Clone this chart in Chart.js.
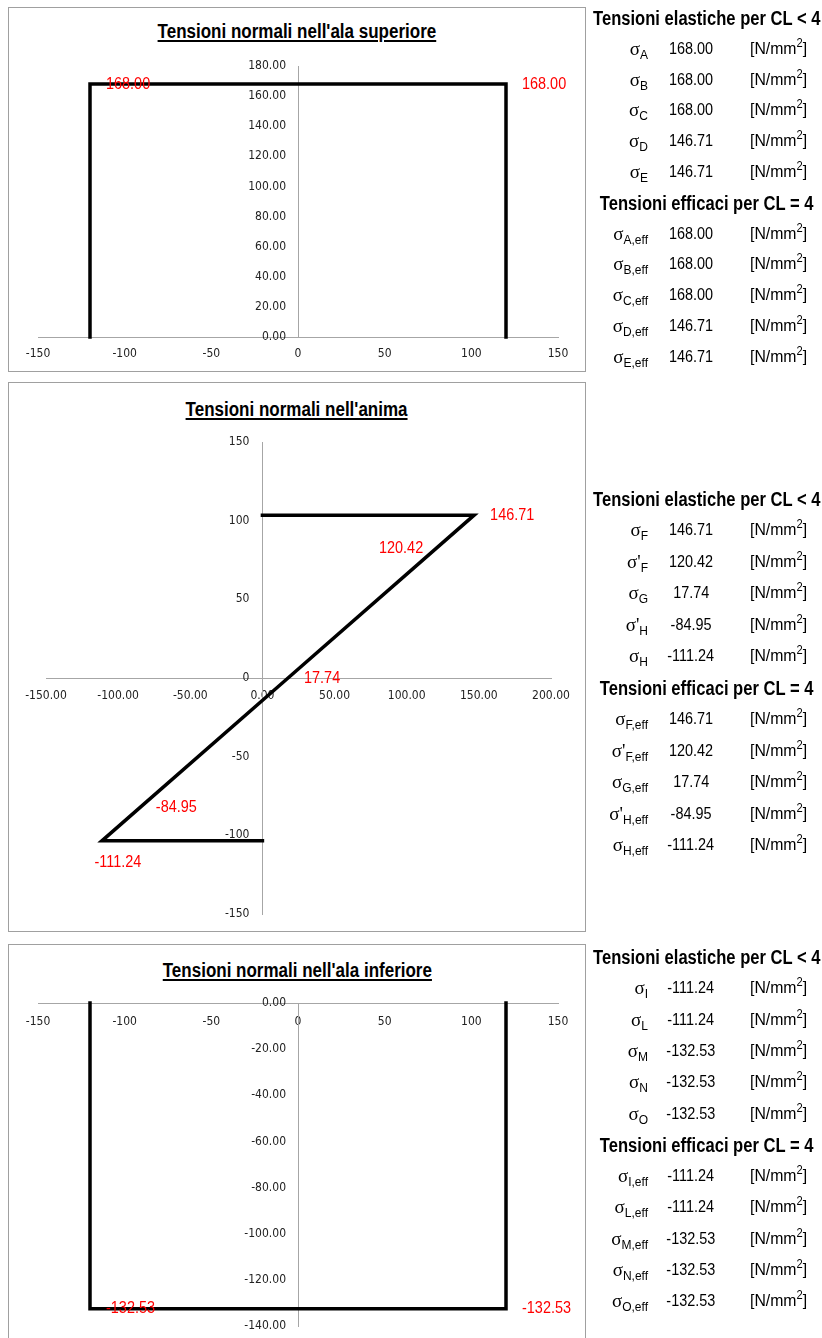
<!DOCTYPE html>
<html>
<head>
<meta charset="utf-8">
<script src="https://cdn.jsdelivr.net/npm/chart.js@4.4.1/dist/chart.umd.min.js"></script>
<style>
  body { margin: 0; width: 822px; height: 1338px; overflow: hidden; background: #fff;
         font-family: 'Liberation Sans', Arial, sans-serif; }
  .box { position: absolute; border: 1px solid #a0a0a0; background: #fff; }
  .box canvas { position: absolute; left: 0; top: 0; }
  .ctitle { position: absolute; left: 0; width: 100%; text-align: center; }
  .ctitle span { display: inline-block; font-weight: bold; font-size: 20px; text-decoration: underline;
                 text-underline-offset: 2px; transform: scaleX(0.85); color: #000; }
  .tbl { position: absolute; left: 590px; width: 232px; }
  .line { position: absolute; left: 0; width: 232px; height: 30px; line-height: 30px; white-space: nowrap; color: #000; }
  .line.head { left: -60px; width: 354px; text-align: center; }
  .head span { display: inline-block; font-weight: bold; font-size: 19.5px; transform: scaleX(0.85); }
  .sym { position: absolute; right: 174px; font-size: 19px; font-family: 'Liberation Serif', serif; }
  .sym sub { font-family: 'Liberation Sans', Arial, sans-serif; font-size: 12px; vertical-align: -4px; }
  .val { position: absolute; left: 66px; width: 70px; text-align: center; font-size: 17px; }
  .val span { display: inline-block; transform: scaleX(0.85); }
  .unit { position: absolute; left: 160px; font-size: 17px; }
  .unit span { display: inline-block; transform: scaleX(0.93); transform-origin: left center; }
  .unit sup { font-size: 12px; vertical-align: 7px; line-height: 0; }
</style>
</head>
<body>

<div class="box" style="left:8px;top:7px;width:576px;height:363px;">
  <div class="ctitle" style="top:12px;"><span>Tensioni normali nell'ala superiore</span></div>
  <canvas id="cTop" width="576" height="363"></canvas>
</div>
<div class="box" style="left:8px;top:382px;width:576px;height:548px;">
  <div class="ctitle" style="top:15px;"><span>Tensioni normali nell'anima</span></div>
  <canvas id="cWeb" width="576" height="548"></canvas>
</div>
<div class="box" style="left:8px;top:944px;width:576px;height:396px;">
  <div class="ctitle" style="top:14px;"><span>Tensioni normali nell'ala inferiore</span></div>
  <canvas id="cBot" width="576" height="396"></canvas>
</div>

<div class="tbl" id="tTop" style="top:3px;"></div>
<div class="tbl" id="tWeb" style="top:484px;"></div>
<div class="tbl" id="tBot" style="top:942px;"></div>

<script>
// ala superiore
const topX = [-120, -120, 120, 120];
const topY = [0, 168.00, 168.00, 0];
const topXTicks = [-150, -100, -50, 0, 50, 100, 150];
const topYTicks = [0, 20, 40, 60, 80, 100, 120, 140, 160, 180];

// anima
const webX = [0, 146.71, 120.42, 17.74, -84.95, -111.24, 0];
const webY = [103.5, 103.5, 82.4, 0, -82.4, -103.5, -103.5];
const webXTicks = [-150, -100, -50, 0, 50, 100, 150, 200];
const webYTicks = [-150, -100, -50, 0, 50, 100, 150];

// ala inferiore
const botX = [-120, -120, 120, 120];
const botY = [0, -132.53, -132.53, 0];
const botXTicks = [-150, -100, -50, 0, 50, 100, 150];
const botYTicks = [0, -20, -40, -60, -80, -100, -120, -140];

// tabelle
const topSubs = ['A', 'B', 'C', 'D', 'E'];
const topPrimes = [false, false, false, false, false];
const topElastic = [168.00, 168.00, 168.00, 146.71, 146.71];
const topEff = [168.00, 168.00, 168.00, 146.71, 146.71];

const webSubs = ['F', 'F', 'G', 'H', 'H'];
const webPrimes = [false, true, false, true, false];
const webElastic = [146.71, 120.42, 17.74, -84.95, -111.24];
const webEff = [146.71, 120.42, 17.74, -84.95, -111.24];

const botSubs = ['I', 'L', 'M', 'N', 'O'];
const botPrimes = [false, false, false, false, false];
const botElastic = [-111.24, -111.24, -132.53, -132.53, -132.53];
const botEff = [-111.24, -111.24, -132.53, -132.53, -132.53];

const TICKFONT = "'DejaVu Sans Condensed', 'Liberation Sans', sans-serif";
const LABELFONT = "'Liberation Sans', Arial, sans-serif";
Chart.defaults.font.family = TICKFONT;

// valori in rosso sui punti
const pointLabels = {
  id: 'pointLabels',
  afterDatasetsDraw(chart, args, opts) {
    const ctx = chart.ctx;
    const meta = chart.getDatasetMeta(0);
    const ds = chart.data.datasets[0].data;
    ctx.save();
    ctx.font = '17px ' + LABELFONT;
    ctx.fillStyle = '#ff0000';
    ctx.textBaseline = 'middle';
    opts.items.forEach(it => {
      const el = meta.data[it.index];
      const text = ds[it.index][opts.axis].toFixed(2);
      let x = el.x, y = el.y;
      if (it.pos === 'right') { ctx.textAlign = 'left'; x += 16; }
      else if (it.pos === 'left') { ctx.textAlign = 'right'; x -= 13; }
      else { ctx.textAlign = 'center'; x += 16; y += 21; }
      ctx.save();
      ctx.translate(x, y);
      ctx.scale(0.85, 1);
      ctx.fillText(text, 0, 0);
      ctx.restore();
    });
    ctx.restore();
  }
};

// le etichette dell'asse y centrato non hanno padding: spostale a sinistra
const yLabelGap = {
  id: 'yLabelGap',
  beforeDraw(chart, args, opts) {
    const items = chart.scales.y.getLabelItems();
    if (items._gap) return;
    items.forEach(it => {
      const t = it.options ? it.options.translation : it.translation;
      if (t) t[0] -= opts.gap;
    });
    items._gap = true;
  }
};

function axis(ticksArr, dec, pad, min, max, pos) {
  return {
    type: 'linear', min: min, max: max, position: pos,
    grid: { display: false, drawTicks: false },
    border: { display: true, color: '#a6a6a6', width: 1 },
    afterBuildTicks: s => { s.ticks = ticksArr.map(v => ({ value: v })); },
    ticks: {
      autoSkip: false, maxRotation: 0, padding: pad, color: '#222',
      font: { size: 12 },
      callback: v => v.toFixed(dec)
    }
  };
}

function makeChart(id, xs, ys, scales, padding, gap, labelOpts) {
  new Chart(document.getElementById(id), {
    type: 'scatter',
    data: {
      datasets: [{
        data: xs.map((x, i) => ({ x: x, y: ys[i] })),
        showLine: true,
        borderColor: '#000',
        borderWidth: 3.5,
        borderJoinStyle: 'miter',
        borderCapStyle: 'square',
        pointRadius: 0,
        clip: false
      }]
    },
    options: {
      responsive: false,
      animation: false,
      layout: { padding: padding },
      scales: scales,
      plugins: {
        legend: { display: false },
        tooltip: { enabled: false },
        yLabelGap: { gap: gap },
        pointLabels: labelOpts
      }
    },
    plugins: [yLabelGap, pointLabels]
  });
}

makeChart('cTop', topX, topY, {
  x: axis(topXTicks, 0, 10, -150, 150, { y: 0 }),
  y: axis(topYTicks, 2, 0, 0, 180, { x: 0 })
}, { left: 29, right: 27, top: 58, bottom: 34 }, 12,
{ axis: 'y', items: [{ index: 1, pos: 'right' }, { index: 2, pos: 'right' }] });

makeChart('cWeb', webX, webY, {
  x: axis(webXTicks, 2, 11, -150, 200, { y: 0 }),
  y: axis(webYTicks, 0, 0, -150, 150, { x: 0 })
}, { left: 37, right: 34, top: 59, bottom: 17 }, 13,
{ axis: 'x', items: [
  { index: 1, pos: 'right' }, { index: 2, pos: 'left' }, { index: 3, pos: 'right' },
  { index: 4, pos: 'right' }, { index: 5, pos: 'below' }
] });

makeChart('cBot', botX, botY, {
  x: axis(botXTicks, 0, 12, -150, 150, { y: 0 }),
  y: axis(botYTicks, 2, 0, -140, 0, { x: 0 })
}, { left: 29, right: 27, top: 58, bottom: 15 }, 12,
{ axis: 'y', items: [{ index: 1, pos: 'right' }, { index: 2, pos: 'right' }] });

function buildTable(id, subs, primes, elastic, eff, step) {
  const el = document.getElementById(id);
  let html = '';
  let row = 0;
  const line = (inner, cls) => {
    html += '<div class="line ' + (cls || '') + '" style="top:' + (row * step) + 'px">' + inner + '</div>';
    row++;
  };
  const sym = (i, suffix) => '<span class="sym">σ' + (primes[i] ? "'" : '') + '<sub>' + subs[i] + suffix + '</sub></span>';
  const unit = '<span class="unit"><span>[N/mm<sup>2</sup>]</span></span>';
  const val = v => '<span class="val"><span>' + v.toFixed(2) + '</span></span>';
  line('<span>Tensioni elastiche per CL &lt; 4</span>', 'head');
  elastic.forEach((v, i) => line(sym(i, '') + val(v) + unit));
  line('<span>Tensioni efficaci per CL = 4</span>', 'head');
  eff.forEach((v, i) => line(sym(i, ',eff') + val(v) + unit));
  el.innerHTML = html;
}

buildTable('tTop', topSubs, topPrimes, topElastic, topEff, 30.8);
buildTable('tWeb', webSubs, webPrimes, webElastic, webEff, 31.45);
buildTable('tBot', botSubs, botPrimes, botElastic, botEff, 31.3);
</script>
</body>
</html>
